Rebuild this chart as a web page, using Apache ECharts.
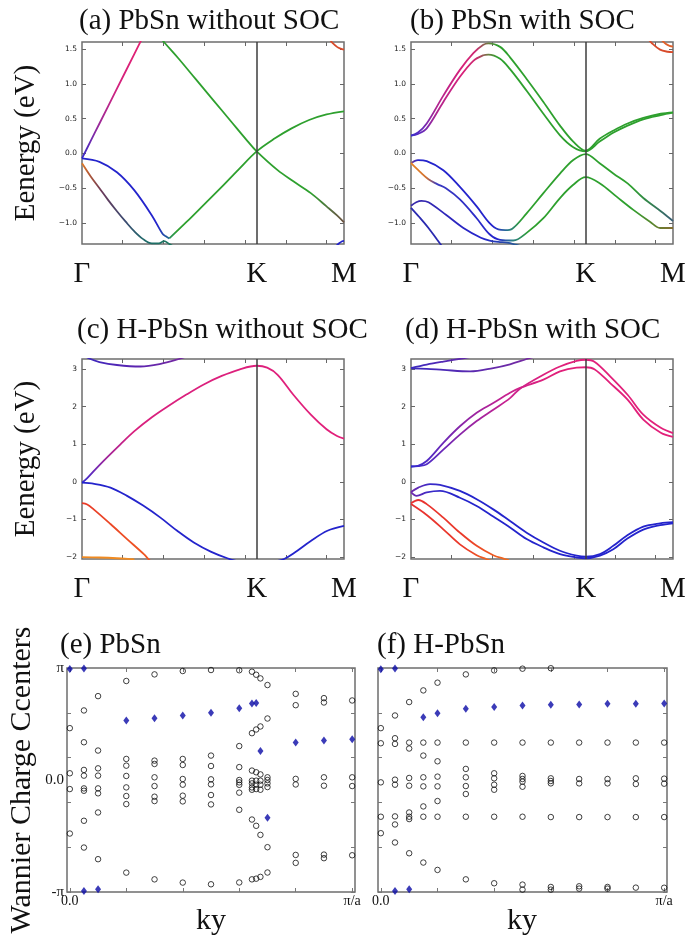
<!DOCTYPE html>
<html>
<head>
<meta charset="utf-8">
<title>PbSn bands and Wannier charge centers</title>
<script src="https://cdn.jsdelivr.net/npm/echarts@6/dist/echarts.min.js"></script>
<style>
html,body{margin:0;padding:0;background:#ffffff;}
#chart{width:685px;height:940px;}
</style>
</head>
<body>
<div id="chart"></div>
<script>
// ---------------- tick labels ----------------
const kPathLabels = ['Γ', 'K', 'M'];
const kPathPositions = [0, 1, 1.5];
const kMinorTicks = [0.2333, 0.4667, 0.7, 0.9333, 1.1667, 1.4];
const energyTicksPbSn = [-1.0, -0.5, 0.0, 0.5, 1.0, 1.5];
const energyTicksHPbSn = [-2, -1, 0, 1, 2, 3];
const wccTickValues = [-1, 0, 1];
const wccTickLabels = ['-π', '0.0', 'π'];
const wccMinorTicks = [-1, -0.6, -0.2, 0.2, 0.6, 1];
const kyTickValues = [0, 1];
const kyTickLabels = ['0.0', 'π/a'];
const kyMinorTicks = [0, 0.2, 0.4, 0.6, 0.8, 1.0];

// ---------------- (a) PbSn without SOC : [k, E(eV)] ----------------
const a_cond = [[0,-0.07],[0.05,0.18],[0.1,0.43],[0.2,0.93],[0.3,1.43],[0.36,1.73]];
const a_greenDown = [[0.44,1.69],[0.474,1.586],[0.55,1.37],[0.65,1.07],[0.75,0.77],[0.85,0.47],[0.95,0.17],[1.0,0.03],[1.12,-0.24],[1.21,-0.40],[1.31,-0.57],[1.4,-0.76],[1.46,-0.89],[1.5,-0.99]];
const a_greenUp = [[0.5,-1.22],[0.6,-0.98],[0.7,-0.73],[0.8,-0.48],[0.9,-0.22],[1.0,0.03],[1.1,0.21],[1.2,0.36],[1.3,0.48],[1.4,0.56],[1.5,0.605]];
const a_blue = [[0,-0.07],[0.1,-0.12],[0.2,-0.27],[0.3,-0.53],[0.4,-0.89],[0.46,-1.15],[0.48,-1.19],[0.5,-1.22]];
const a_low = [[0,-0.14],[0.05,-0.33],[0.1,-0.5],[0.15,-0.67],[0.2,-0.83],[0.25,-0.98],[0.3,-1.12],[0.35,-1.23],[0.4,-1.29],[0.44,-1.29],[0.47,-1.26],[0.5,-1.3],[0.52,-1.33]];
const a_topRight = [[1.42,1.63],[1.434,1.586],[1.46,1.53],[1.48,1.505],[1.5,1.49]];
const a_botRight = [[1.455,-1.33],[1.472,-1.29],[1.49,-1.26],[1.5,-1.255]];

// ---------------- (b) PbSn with SOC ----------------
const b_pairUp1 = [[0,0.257],[0.04,0.3],[0.09,0.43],[0.185,0.83],[0.28,1.2],[0.357,1.44],[0.414,1.56],[0.443,1.58],[0.51,1.53],[0.567,1.38],[0.662,1.07],[0.758,0.74],[0.853,0.40],[0.929,0.17],[1.0,0.04],[1.08,0.21],[1.16,0.33],[1.24,0.43],[1.33,0.51],[1.43,0.57],[1.5,0.59]];
const b_pairUp2 = [[0,0.257],[0.04,0.28],[0.09,0.36],[0.185,0.74],[0.28,1.1],[0.357,1.33],[0.414,1.41],[0.443,1.42],[0.51,1.36],[0.567,1.21],[0.662,0.9],[0.758,0.57],[0.853,0.26],[0.929,0.09],[1.0,0.03],[1.08,0.17],[1.16,0.30],[1.24,0.40],[1.33,0.49],[1.43,0.55],[1.5,0.585]];
const b_val1 = [[0,-0.14],[0.04,-0.095],[0.09,-0.11],[0.185,-0.24],[0.28,-0.48],[0.376,-0.76],[0.45,-1.0],[0.5,-1.09],[0.54,-1.1],[0.58,-1.08],[0.662,-0.86],[0.758,-0.57],[0.853,-0.29],[0.929,-0.095],[1.0,-0.01],[1.08,-0.14],[1.16,-0.29],[1.24,-0.43],[1.33,-0.64],[1.43,-0.83],[1.5,-0.97]];
const b_val2 = [[0,-0.14],[0.05,-0.26],[0.1,-0.37],[0.15,-0.44],[0.2,-0.5],[0.28,-0.66],[0.376,-0.93],[0.45,-1.16],[0.51,-1.24],[0.586,-1.25],[0.662,-1.14],[0.758,-0.93],[0.853,-0.64],[0.929,-0.45],[1.0,-0.34],[1.082,-0.43],[1.177,-0.62],[1.273,-0.81],[1.368,-0.98],[1.426,-1.07],[1.5,-1.07]];
const b_val3 = [[0,-0.75],[0.03,-0.7],[0.06,-0.68],[0.1,-0.7],[0.2,-0.88],[0.3,-1.07],[0.4,-1.21],[0.45,-1.25],[0.5,-1.27],[0.55,-1.28],[0.6,-1.31],[0.64,-1.34]];
const b_val4 = [[0,-0.78],[0.05,-0.92],[0.1,-1.07],[0.15,-1.24],[0.18,-1.34]];
const b_topRight1 = [[1.36,1.64],[1.378,1.586],[1.426,1.49],[1.47,1.46],[1.5,1.455]];
const b_topRight2 = [[1.43,1.64],[1.46,1.57],[1.48,1.545],[1.5,1.535]];

// ---------------- (c) H-PbSn without SOC ----------------
const c_cond = [[0,-0.02],[0.03,0.1],[0.1,0.45],[0.22,1.0],[0.3,1.35],[0.4,1.72],[0.488,2.0],[0.6,2.33],[0.7,2.6],[0.8,2.82],[0.9,2.99],[1.0,3.09],[1.06,3.04],[1.12,2.85],[1.21,2.32],[1.31,1.79],[1.4,1.4],[1.46,1.22],[1.5,1.15]];
const c_top = [[0,3.4],[0.038,3.29],[0.1,3.19],[0.2,3.11],[0.335,3.07],[0.45,3.14],[0.555,3.27],[0.6,3.34]];
const c_val = [[0,-0.02],[0.07,-0.05],[0.163,-0.15],[0.258,-0.37],[0.35,-0.63],[0.449,-0.95],[0.545,-1.3],[0.64,-1.61],[0.74,-1.86],[0.832,-2.03],[0.9,-2.12],[1.0,-2.18],[1.1,-2.12],[1.157,-2.05],[1.214,-1.89],[1.31,-1.57],[1.405,-1.3],[1.5,-1.17]];
const c_red = [[0,-0.566],[0.03,-0.6],[0.067,-0.73],[0.163,-1.12],[0.258,-1.52],[0.354,-1.92],[0.38,-2.05],[0.4,-2.15]];
const c_orange = [[0,-2.0],[0.1,-2.01],[0.2,-2.03],[0.3,-2.06]];

// ---------------- (d) H-PbSn with SOC ----------------
const d_cond1 = [[0,0.41],[0.04,0.43],[0.09,0.556],[0.185,1.04],[0.28,1.48],[0.376,1.84],[0.471,2.10],[0.567,2.37],[0.624,2.5],[0.758,2.72],[0.853,2.94],[0.948,3.04],[1.0,3.05],[1.05,3.0],[1.14,2.63],[1.24,2.19],[1.33,1.66],[1.43,1.31],[1.5,1.2]];
const d_cond2 = [[0,0.41],[0.04,0.42],[0.09,0.47],[0.185,0.86],[0.28,1.26],[0.376,1.62],[0.471,1.92],[0.567,2.23],[0.624,2.48],[0.758,2.85],[0.853,3.07],[0.948,3.22],[1.0,3.25],[1.05,3.2],[1.14,2.81],[1.24,2.32],[1.33,1.79],[1.43,1.44],[1.5,1.3]];
const d_top1 = [[0,3.03],[0.09,3.12],[0.185,3.2],[0.3,3.29],[0.35,3.33]];
const d_top2 = [[0,3.02],[0.09,3.01],[0.185,2.98],[0.338,2.94],[0.471,3.03],[0.567,3.13],[0.662,3.27],[0.7,3.32]];
const d_val1 = [[0,-0.27],[0.042,-0.15],[0.109,-0.06],[0.166,-0.08],[0.28,-0.24],[0.376,-0.46],[0.471,-0.73],[0.567,-1.04],[0.662,-1.35],[0.758,-1.61],[0.853,-1.83],[0.948,-1.96],[1.0,-1.99],[1.082,-1.92],[1.158,-1.7],[1.235,-1.43],[1.33,-1.19],[1.426,-1.1],[1.5,-1.07]];
const d_val2 = [[0,-0.27],[0.032,-0.37],[0.09,-0.28],[0.166,-0.24],[0.28,-0.42],[0.376,-0.64],[0.471,-0.92],[0.567,-1.21],[0.662,-1.52],[0.758,-1.74],[0.853,-1.92],[0.948,-2.01],[1.0,-2.03],[1.082,-1.96],[1.158,-1.79],[1.235,-1.52],[1.33,-1.27],[1.426,-1.15],[1.5,-1.1]];
const d_red1 = [[0,-0.57],[0.042,-0.48],[0.09,-0.59],[0.185,-0.95],[0.28,-1.35],[0.376,-1.7],[0.471,-1.95],[0.53,-2.04],[0.56,-2.08]];
const d_red2 = [[0,-0.59],[0.09,-0.88],[0.185,-1.26],[0.28,-1.66],[0.376,-1.95],[0.43,-2.05],[0.46,-2.1]];

// ---------------- (e) PbSn Wannier charge centres (units of π) ----------------
const wccE_ky = [0, 0.05, 0.1, 0.2, 0.3, 0.4, 0.5, 0.6, 0.645, 0.66, 0.675, 0.7, 0.8, 0.9, 1.0];
const wccE_open = [
  [0.463, 0.06, -0.081, -0.478],
  [0.621, 0.337, 0.09, 0.039, -0.075, -0.096, -0.364, -0.603],
  [0.749, 0.263, 0.104, 0.039, -0.075, -0.119, -0.29, -0.707],
  [0.884, 0.188, 0.128, 0.036, -0.066, -0.143, -0.215, -0.827],
  [0.943, 0.173, 0.143, 0.024, -0.054, -0.149, -0.188, -0.887],
  [0.973, 0.188, 0.134, 0.009, -0.042, -0.140, -0.191, -0.916],
  [0.982, 0.218, 0.125, 0.006, -0.039, -0.134, -0.218, -0.931],
  [0.98, 0.303, 0.115, 0.0, -0.021, -0.043, -0.113, -0.266, -0.915],
  [0.967, 0.418, 0.084, -0.006, -0.03, -0.066, -0.087, -0.353, -0.887],
  [0.94, 0.451, 0.069, -0.006, -0.042, -0.081, -0.409, -0.881],
  [0.907, 0.478, 0.05, -0.006, -0.042, -0.087, -0.49, -0.865],
  [0.848, 0.549, 0.024, 0.0, -0.03, -0.063, -0.6, -0.826],
  [0.769, 0.668, 0.01, -0.04, -0.669, -0.74],
  [0.731, 0.692, 0.024, -0.051, -0.666, -0.698],
  [0.71, 0.024, -0.054, -0.672]
];
const wccE_filled = [[0.99],[0.995,-0.991],[-0.976],[0.531],[0.552],[0.576],[0.6],[0.64],[0.684],[0.687],[0.26],[-0.337],[0.334],[0.352],[0.364]];

// ---------------- (f) H-PbSn Wannier charge centres (units of π) ----------------
const wccF_ky = [0, 0.05, 0.1, 0.15, 0.2, 0.3, 0.4, 0.5, 0.6, 0.7, 0.8, 0.9, 1.0];
const wccF_open = [
  [0.463, 0.328, -0.021, -0.328, -0.475],
  [0.576, 0.373, 0.322, 0.003, -0.042, -0.325, -0.397, -0.558],
  [0.696, 0.334, 0.281, 0.018, -0.051, -0.29, -0.328, -0.349, -0.654],
  [0.8, 0.334, 0.218, 0.024, -0.057, -0.236, -0.328, -0.737],
  [0.869, 0.334, 0.167, 0.03, -0.057, -0.188, -0.328, -0.803],
  [0.943, 0.334, 0.099, 0.024, -0.054, -0.125, -0.328, -0.887],
  [0.979, 0.334, 0.06, 0.015, -0.042, -0.087, -0.328, -0.922],
  [0.994, 0.334, 0.036, 0.009, -0.015, -0.06, -0.328, -0.934, -0.979],
  [0.998, 0.334, 0.015, -0.009, -0.03, -0.331, -0.955, -0.979],
  [0.334, 0.009, -0.03, -0.331, -0.949, -0.97],
  [0.334, 0.009, -0.03, -0.331, -0.955, -0.97],
  [0.334, 0.015, -0.036, -0.331, -0.961],
  [0.334, 0.012, -0.033, -0.331, -0.962]
];
const wccF_filled = [[0.988],[0.995,-0.991],[-0.976],[0.561],[0.597],[0.636],[0.651],[0.665],[0.672],[0.675],[0.681],[0.681],[0.683]];

// ---------------- styling ----------------
const SERIF = '"Liberation Serif","Times New Roman",serif';
const SANS = '"DejaVu Sans","Liberation Sans",sans-serif';
const G = '#2ea02e', B = '#2424cc', M = '#e2207a';
const FRAME = '#6e6e6e';

function grad(data, stops) {
  if (typeof stops === 'string') return stops;
  const xs = data.map(p => p[0]);
  const x0 = Math.min(...xs), x1 = Math.max(...xs);
  return new echarts.graphic.LinearGradient(0, 0, 1, 0,
    stops.map(([x, c]) => ({offset: Math.min(1, Math.max(0, (x - x0) / (x1 - x0))), color: c})));
}

const grids = [], xAxes = [], yAxes = [], series = [];
function minus(s) { return String(s).replace('-', '\u2212'); }
const noLine = {show: false, onZero: false};

function addBandPanel(box, yMin, yMax, yTicks, fmt, showYLabels, curves) {
  const gi = grids.length;
  grids.push(Object.assign({show: true, borderColor: FRAME, borderWidth: 1.5,
    backgroundColor: 'rgba(0,0,0,0)', containLabel: false, outerBoundsMode: 'none'}, box));
  const xi = xAxes.length;
  xAxes.push({type: 'value', gridIndex: gi, min: 0, max: 1.5, position: 'bottom',
    axisLine: noLine, splitLine: {show: false},
    axisTick: {show: true, inside: true, length: 4, customValues: kMinorTicks, lineStyle: {color: '#666', width: 1}},
    axisLabel: {show: true, customValues: kPathPositions,
      formatter: v => kPathLabels[kPathPositions.indexOf(v)] || '',
      fontFamily: SERIF, fontSize: 29, color: '#111', margin: 16}});
  xAxes.push({type: 'value', gridIndex: gi, min: 0, max: 1.5, position: 'top',
    axisLine: noLine, splitLine: {show: false},
    axisTick: {show: true, inside: true, length: 4, customValues: kMinorTicks, lineStyle: {color: '#666', width: 1}},
    axisLabel: {show: false}});
  const yi = yAxes.length;
  yAxes.push({type: 'value', gridIndex: gi, min: yMin, max: yMax, position: 'left',
    axisLine: noLine, splitLine: {show: false},
    axisTick: {show: true, inside: true, length: 4, customValues: yTicks, lineStyle: {color: '#666', width: 1}},
    axisLabel: {show: showYLabels, customValues: yTicks, formatter: fmt,
      fontFamily: SANS, fontSize: 7.5, color: '#222', margin: 5}});
  yAxes.push({type: 'value', gridIndex: gi, min: yMin, max: yMax, position: 'right',
    axisLine: noLine, splitLine: {show: false},
    axisTick: {show: true, inside: true, length: 4, customValues: yTicks, lineStyle: {color: '#666', width: 1}},
    axisLabel: {show: false}});
  curves.forEach((c, idx) => {
    const s = {type: 'line', xAxisIndex: xi, yAxisIndex: yi, data: c[0], showSymbol: false, symbol: 'none',
      smooth: 0.35, animation: false, silent: true, clip: true, z: 3,
      lineStyle: {width: 1.8, color: grad(c[0], c[1])}};
    if (idx === 0) {
      s.markLine = {silent: true, symbol: ['none', 'none'], animation: false, label: {show: false},
        lineStyle: {color: '#3c3c3c', width: 1.5, type: 'solid'}, data: [{xAxis: kPathPositions[1]}]};
    }
    series.push(s);
  });
}

function addWccPanel(box, showYLabels, kys, openCols, filledCols) {
  const gi = grids.length;
  grids.push(Object.assign({show: true, borderColor: FRAME, borderWidth: 1.5,
    backgroundColor: 'rgba(0,0,0,0)', containLabel: false, outerBoundsMode: 'none'}, box));
  const xi = xAxes.length;
  xAxes.push({type: 'value', gridIndex: gi, min: -0.01, max: 1.01, position: 'bottom',
    axisLine: noLine, splitLine: {show: false},
    axisTick: {show: true, inside: true, length: 4, customValues: kyMinorTicks, lineStyle: {color: '#777'}},
    axisLabel: {show: true, customValues: kyTickValues,
      formatter: v => kyTickLabels[kyTickValues.indexOf(v)] || '',
      fontFamily: SERIF, fontSize: 14, color: '#111', margin: 2}});
  xAxes.push({type: 'value', gridIndex: gi, min: -0.01, max: 1.01, position: 'top',
    axisLine: noLine, splitLine: {show: false},
    axisTick: {show: true, inside: true, length: 4, customValues: kyMinorTicks, lineStyle: {color: '#777'}},
    axisLabel: {show: false}});
  const yi = yAxes.length;
  yAxes.push({type: 'value', gridIndex: gi, min: -1, max: 1, position: 'left',
    axisLine: noLine, splitLine: {show: false},
    axisTick: {show: true, inside: true, length: 4, customValues: wccMinorTicks, lineStyle: {color: '#777'}},
    axisLabel: {show: showYLabels, customValues: wccTickValues,
      formatter: v => wccTickLabels[wccTickValues.indexOf(v)] || '',
      fontFamily: SERIF, fontSize: 15, color: '#111', margin: 3}});
  yAxes.push({type: 'value', gridIndex: gi, min: -1, max: 1, position: 'right',
    axisLine: noLine, splitLine: {show: false},
    axisTick: {show: true, inside: true, length: 4, customValues: wccMinorTicks, lineStyle: {color: '#777'}},
    axisLabel: {show: false}});
  const openPts = [], filledPts = [];
  kys.forEach((k, i) => {
    openCols[i].forEach(v => openPts.push([k, v]));
    filledCols[i].forEach(v => filledPts.push([k, v]));
  });
  series.push({type: 'scatter', xAxisIndex: xi, yAxisIndex: yi, data: openPts, symbol: 'circle', symbolSize: 5.5,
    animation: false, silent: true, clip: false, z: 3,
    itemStyle: {color: 'rgba(0,0,0,0)', borderColor: '#111', borderWidth: 1}});
  series.push({type: 'scatter', xAxisIndex: xi, yAxisIndex: yi, data: filledPts, symbol: 'diamond', symbolSize: [6, 8],
    animation: false, silent: true, clip: false, z: 4,
    itemStyle: {color: '#0a0aa6'}});
}

const fmtA = v => minus(v.toFixed(1));
const fmtC = v => minus(v);

// (a)
addBandPanel({left: 82, top: 42, width: 262, height: 202}, -1.3, 1.6, energyTicksPbSn, fmtA, true, [
  [a_greenDown, [[0.44, G], [1.3, G], [1.42, '#5a6a42'], [1.5, '#6e4a3e']]],
  [a_greenUp, [[0.5, '#2a8a6a'], [0.56, G], [1.5, G]]],
  [a_cond, [[0, '#2a2ad0'], [0.03, '#4a2ac0'], [0.1, '#9a2a9a'], [0.2, '#d2227e'], [0.36, '#e8206e']]],
  [a_blue, [[0, B], [0.42, B], [0.5, '#207a80']]],
  [a_low, [[0, '#f08a20'], [0.04, '#c06030'], [0.12, '#6a3a5a'], [0.25, '#3a4a70'], [0.35, '#206a6a'], [0.52, '#1e7a60']]],
  [a_topRight, '#d84a2a'],
  [a_botRight, B]
]);
// (b)
const pairStops = [[0, '#3030d0'], [0.06, '#5a2ac0'], [0.16, '#b02590'], [0.3, '#d8207a'], [0.38, '#cc2a70'], [0.45, '#6a8040'], [0.5, G], [1.5, G]];
addBandPanel({left: 411, top: 42, width: 262, height: 202}, -1.3, 1.6, energyTicksPbSn, fmtA, true, [
  [b_pairUp1, pairStops],
  [b_pairUp2, pairStops],
  [b_val1, [[0, '#f08a20'], [0.03, '#5030b0'], [0.06, B], [0.48, B], [0.56, '#2a7a8a'], [0.64, G], [1.25, G], [1.5, '#3a5a7a']]],
  [b_val2, [[0, '#f08a20'], [0.1, '#d07030'], [0.16, '#3a3ac0'], [0.5, B], [0.58, '#2a7a8a'], [0.68, G], [1.25, G], [1.5, '#8a6a30']]],
  [b_val3, [[0, '#3a2aa8'], [0.4, B], [0.64, '#2a6a8a']]],
  [b_val4, '#2a2ab0'],
  [b_topRight1, '#d84a2a'],
  [b_topRight2, '#e0602a']
]);
// (c)
addBandPanel({left: 82, top: 359, width: 262, height: 200}, -2.05, 3.27, energyTicksHPbSn, fmtC, true, [
  [c_cond, [[0, '#2a2ad0'], [0.06, '#5a2ac0'], [0.15, '#a0259a'], [0.3, '#d8207e'], [1.5, M]]],
  [c_top, [[0, '#3a2ac0'], [0.3, '#5a24b0'], [0.6, '#7a2aa0']]],
  [c_val, B],
  [c_red, [[0, '#e83a2a'], [0.4, '#f05a20']]],
  [c_orange, '#f08a20']
]);
// (d)
const dCondStops = [[0, '#2a2ad0'], [0.08, '#4a2ac8'], [0.3, '#8a25a8'], [0.55, '#c82290'], [0.8, '#e0207a'], [1.5, M]];
addBandPanel({left: 411, top: 359, width: 262, height: 200}, -2.05, 3.27, energyTicksHPbSn, fmtC, true, [
  [d_cond1, dCondStops],
  [d_cond2, dCondStops],
  [d_top1, [[0, '#3a2ac0'], [0.35, '#6a28a8']]],
  [d_top2, [[0, '#3a2ac0'], [0.7, '#7a2aa0']]],
  [d_val1, [[0, '#7a2aa8'], [0.12, '#3a2ac8'], [0.3, B], [1.5, B]]],
  [d_val2, [[0, '#7a2aa8'], [0.12, '#3a2ac8'], [0.3, B], [1.5, B]]],
  [d_red1, [[0, '#e83030'], [0.3, '#ea3a2a'], [0.56, '#f07020']]],
  [d_red2, [[0, '#e83030'], [0.3, '#ea3a2a'], [0.46, '#f07020']]]
]);
// (e), (f)
addWccPanel({left: 67, top: 668, width: 288, height: 224}, true, wccE_ky, wccE_open, wccE_filled);
addWccPanel({left: 378, top: 668, width: 289, height: 224}, false, wccF_ky, wccF_open, wccF_filled);

function txt(x, y, text, size, align, rot) {
  return {type: 'text', x: x, y: y, rotation: rot || 0, silent: true, z: 10,
    style: {text: text, fill: '#111', font: 'normal ' + size + 'px ' + SERIF, align: align || 'left', verticalAlign: 'middle'}};
}

const graphics = [
  txt(79, 21, '(a) PbSn without SOC', 29),
  txt(410, 21, '(b) PbSn with SOC', 29),
  txt(77, 330, '(c) H-PbSn without SOC', 29),
  txt(405, 330, '(d) H-PbSn with SOC', 29),
  txt(60, 645, '(e) PbSn', 29),
  txt(377, 645, '(f) H-PbSn', 29),
  txt(26, 143, 'Eenergy (eV)', 29, 'center', Math.PI / 2),
  txt(26, 459, 'Eenergy (eV)', 29, 'center', Math.PI / 2),
  txt(22, 780, 'Wannier Charge Ccenters', 30, 'center', Math.PI / 2),
  txt(211, 921, 'ky', 30, 'center'),
  txt(522, 921, 'ky', 30, 'center')
];

const chart = echarts.init(document.getElementById('chart'), null, {renderer: 'canvas', width: 685, height: 940});
chart.setOption({
  animation: false,
  backgroundColor: '#ffffff',
  grid: grids,
  xAxis: xAxes,
  yAxis: yAxes,
  series: series,
  graphic: graphics
});
</script>
</body>
</html>
